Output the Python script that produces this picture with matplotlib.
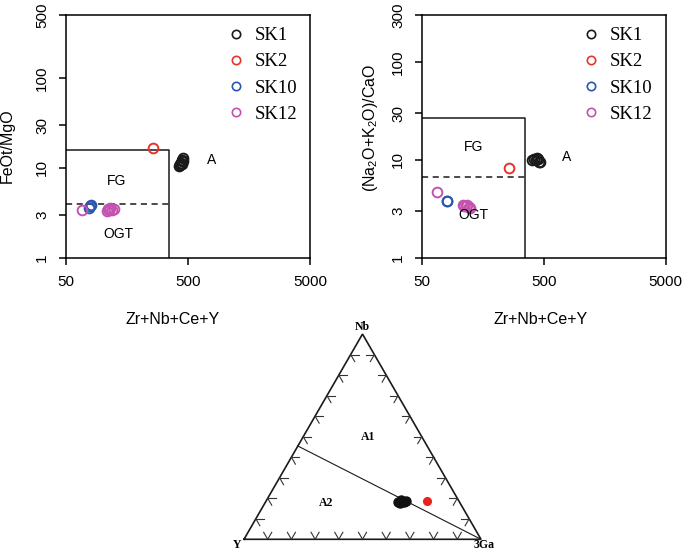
import matplotlib
matplotlib.use("Agg")
import matplotlib.pyplot as plt
from matplotlib.lines import Line2D
import numpy as np

plt.rcParams['font.family'] = ['Liberation Sans', 'DejaVu Sans']
plt.rcParams['mathtext.fontset'] = 'custom'
plt.rcParams['mathtext.rm'] = 'Liberation Sans'

# ---------------- data ----------------
groups = ['SK1', 'SK2', 'SK10', 'SK12']
colors = {'SK1': '#1a1a1a', 'SK2': '#e8332a', 'SK10': '#2a55b0', 'SK12': '#c452b0'}

# panel 1: Zr+Nb+Ce+Y vs FeOt/MgO
p1_x = {
    'SK1': [420, 430, 440, 450, 455, 445, 460, 435, 450],
    'SK2': [259],
    'SK10': [77, 79, 80],
    'SK12': [68, 108, 112, 116, 120, 124, 114],
}
p1_y = {
    'SK1': [10.5, 11.0, 11.5, 12.0, 12.8, 12.3, 11.8, 10.8, 11.2],
    'SK2': [16.7],
    'SK10': [3.55, 3.75, 3.9],
    'SK12': [3.45, 3.35, 3.5, 3.55, 3.45, 3.5, 3.4],
}

# panel 2: Zr+Nb+Ce+Y vs (Na2O+K2O)/CaO
p2_x = {
    'SK1': [400, 420, 440, 450, 460, 470, 430],
    'SK2': [258],
    'SK10': [80, 81],
    'SK12': [67, 108, 112, 118, 122, 125, 115],
}
p2_y = {
    'SK1': [10.0, 10.3, 10.4, 10.1, 9.6, 9.5, 9.9],
    'SK2': [8.2],
    'SK10': [3.85, 3.8],
    'SK12': [4.7, 3.45, 3.35, 3.5, 3.3, 3.2, 3.4],
}

# field boundaries
zr_limit = 350
p1_fg_top, p1_ogt_top = 16, 4
p2_fg_top, p2_ogt_top = 27, 6.7

# ternary Nb - Y - 3Ga (fractions)
tern_nb = {'SK1': [0.182, 0.1915, 0.182, 0.187, 0.177], 'SK2': [0.188]}
tern_ga = {'SK1': [0.559, 0.567, 0.584, 0.590, 0.570], 'SK2': [0.677]}
y_nb_ratio = 1.2  # A1/A2 boundary, Y/Nb on the Nb-Y side

W, H = 685, 551
fig = plt.figure(figsize=(W / 100, H / 100), dpi=100)


def log_panel(rect, xs, ys, ymax, yticks, fg_top, ogt_top, txt):
    ax = fig.add_axes(rect)
    ax.set_xscale('log')
    ax.set_yscale('log')
    ax.set_xlim(50, 5000)
    ax.set_ylim(1, ymax)
    ax.set_xticks([50, 500, 5000])
    ax.set_xticklabels(['50', '500', '5000'])
    ax.set_yticks(yticks)
    ax.set_yticklabels([str(v) for v in yticks])
    ax.minorticks_off()
    ax.tick_params(direction='out', length=5, width=1.1, pad=7, labelsize=11)
    for lab in ax.get_yticklabels():
        lab.set_rotation(90)
        lab.set_va('center')
    for s in ax.spines.values():
        s.set_linewidth(1.1)
    # fields
    ax.plot([50, zr_limit, zr_limit], [fg_top, fg_top, 1], color='#1a1a1a', lw=1.1)
    ax.plot([50, zr_limit], [ogt_top, ogt_top], color='#1a1a1a', lw=1.1,
            ls=(0, (4, 3)))
    for t, (tx, ty) in txt.items():
        ax.text(tx, ty, t, ha='center', va='center', fontsize=10)
    for g in groups:
        ax.plot(xs[g], ys[g], 'o', mfc='none', mec=colors[g], ms=7, mew=1.4)
    handles = [Line2D([], [], ls='none', marker='o', mfc='none', mec=colors[g],
                      ms=6, mew=1.2) for g in groups]
    ax.legend(handles, groups, loc='upper right', bbox_to_anchor=(1.0, 1.004),
              frameon=False, handlelength=1.0, handletextpad=0.5,
              labelspacing=0.48, borderpad=0.2,
              prop={'family': 'Liberation Serif', 'size': 13.5})
    return ax


ax1 = log_panel([65.7 / W, 1 - 258 / H, 244.3 / W, 243 / H], p1_x, p1_y, 500,
                [1, 3, 10, 30, 100, 500], p1_fg_top, p1_ogt_top,
                {'FG': (131, 7.2), 'OGT': (134, 1.85), 'A': (789, 12.3)})
ax2 = log_panel([421.7 / W, 1 - 258 / H, 244 / W, 243 / H], p2_x, p2_y, 300,
                [1, 3, 10, 30, 100, 300], p2_fg_top, p2_ogt_top,
                {'FG': (134, 13.6), 'OGT': (134, 2.74), 'A': (773, 10.6)})

fig.text(7 / W, 1 - 146 / H, 'FeOt/MgO', rotation=90, ha='center', va='center',
         fontsize=11.5)
fig.text(173 / W, 1 - 320 / H, 'Zr+Nb+Ce+Y', ha='center', va='center',
         fontsize=11.5)
fig.text(370 / W, 1 - 128 / H,
         r'(Na$\mathregular{_2}$O+K$\mathregular{_2}$O)/CaO', rotation=90,
         ha='center', va='center', fontsize=11.5)
fig.text(541 / W, 1 - 320 / H, 'Zr+Nb+Ce+Y', ha='center', va='center',
         fontsize=11.5)

# ---------------- ternary ----------------
h = np.sqrt(3) / 2
axt = fig.add_axes([244 / W, 1 - 539.3 / H, 237 / W, 237 * h / H])
axt.set_xlim(0, 1)
axt.set_ylim(0, h)
axt.axis('off')


def tern(nb, ga):
    nb = np.asarray(nb)
    ga = np.asarray(ga)
    return ga + 0.5 * nb, h * nb


Yv, Gv, Nv = np.array([0, 0]), np.array([1, 0]), np.array([0.5, h])
axt.plot([0, 1, 0.5, 0], [0, 0, h, 0], color='#1a1a1a', lw=1.2,
         solid_joinstyle='miter', clip_on=False)

L = 0.034
edges = [
    (Yv, Gv, [Nv - Gv, Nv - Yv]),
    (Yv, Nv, [np.array([1, 0]), Gv - Nv]),
    (Gv, Nv, [np.array([-1, 0]), Yv - Nv]),
]
for a, b, dirs in edges:
    for i in range(1, 10):
        p = a + (b - a) * i / 10
        for d in dirs:
            d = d / np.linalg.norm(d)
            q = p + d * L
            axt.plot([p[0], q[0]], [p[1], q[1]], color='#333333', lw=0.8)

# A1 / A2 boundary
nb_b = 1 / (1 + y_nb_ratio)
bx, by = tern([nb_b, 0], [0, 1])
axt.plot(bx, by, color='#1a1a1a', lw=0.8)

tx, ty = tern(tern_nb['SK1'], tern_ga['SK1'])
axt.plot(tx, ty, 'o', color='#111111', ms=6.5, clip_on=False)
tx, ty = tern(tern_nb['SK2'], tern_ga['SK2'])
axt.plot(tx, ty, 'o', color='#e8231e', ms=5.5, clip_on=False)

bold = dict(family='Liberation Serif', weight='bold', fontsize=8.5,
            ha='center', va='center')
axt.text(0.5, h + 0.03, 'Nb', **bold)
axt.text(-0.03, -0.026, 'Y', **bold)
axt.text(1.015, -0.026, '3Ga', **bold)
axt.text(0.522, 0.432, 'A1', **bold)
axt.text(0.346, 0.154, 'A2', **bold)

fig.savefig('out.png', dpi=100)
